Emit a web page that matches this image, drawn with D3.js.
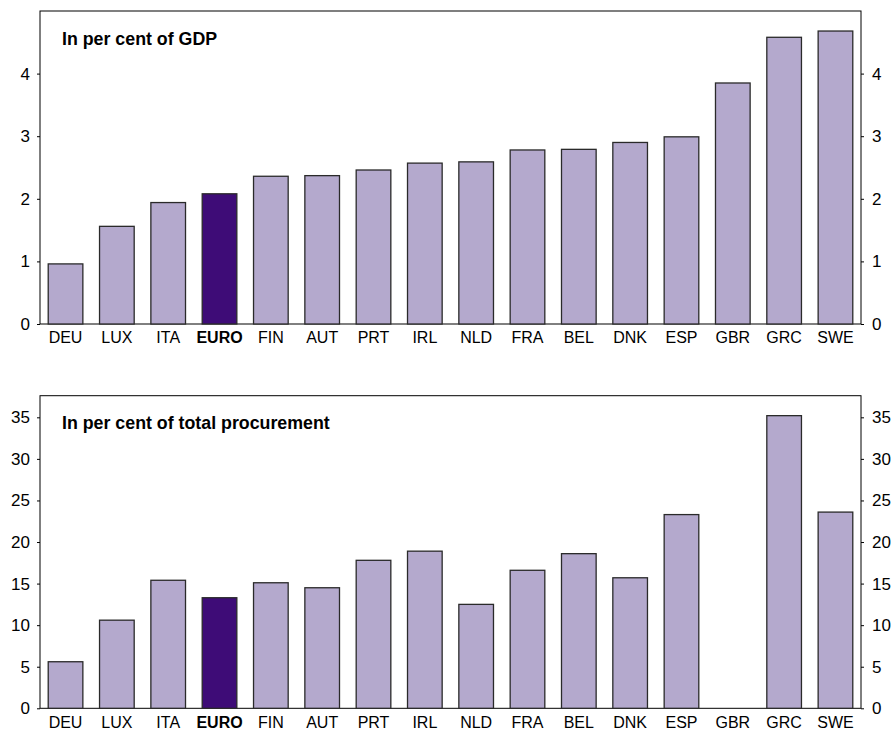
<!DOCTYPE html>
<html>
<head>
<meta charset="utf-8">
<script src="https://cdn.jsdelivr.net/npm/d3@7"></script>
<style>
  html, body { margin: 0; padding: 0; background: #ffffff; }
  svg { display: block; font-family: "Liberation Sans", Arial, sans-serif; }
</style>
</head>
<body>
<svg id="chart" width="893" height="731"></svg>
<script>
const categories = ["DEU","LUX","ITA","EURO","FIN","AUT","PRT","IRL","NLD","FRA","BEL","DNK","ESP","GBR","GRC","SWE"];
const gdpValues = [0.96,1.56,1.94,2.08,2.36,2.37,2.46,2.57,2.59,2.78,2.79,2.90,2.99,3.85,4.58,4.68];
const procurementValues = [5.6,10.6,15.4,13.3,15.1,14.5,17.8,18.9,12.5,16.6,18.6,15.7,23.3,null,35.2,23.6];
const gdpTicks = [0,1,2,3,4];
const procurementTicks = [0,5,10,15,20,25,30,35];
const highlightCategory = "EURO";
const titles = ["In per cent of GDP", "In per cent of total procurement"];

const svg = d3.select("#chart");
const left = 40, right = 861;
const lightFill = "#b4a9cd", darkFill = "#3e0c77", barStroke = "#2a2a2a";

function panel(top, bottom, values, yMax, ticks, title) {
  const g = svg.append("g");
  const x = d3.scaleBand().domain(categories).range([left, right])
    .paddingInner(0.325).paddingOuter(0.16);
  const y = d3.scaleLinear().domain([0, yMax]).range([bottom, top]);

  // frame
  g.append("rect").attr("x", left).attr("y", top)
    .attr("width", right - left).attr("height", bottom - top)
    .attr("fill", "none").attr("stroke", "#000").attr("stroke-width", 1);

  // bars
  g.selectAll("rect.bar").data(categories.map((c, i) => ({c, v: values[i]})).filter(d => d.v != null))
    .enter().append("rect").attr("class", "bar")
    .attr("x", d => x(d.c)).attr("width", x.bandwidth())
    .attr("y", d => y(d.v)).attr("height", d => y(0) - y(d.v))
    .attr("fill", d => d.c === highlightCategory ? darkFill : lightFill)
    .attr("stroke", barStroke).attr("stroke-width", 1.3);

  // y axes
  const yl = d3.axisLeft(y).tickValues(ticks).tickSize(3).tickPadding(7).tickFormat(d3.format("d"));
  const yr = d3.axisRight(y).tickValues(ticks).tickSize(3).tickPadding(8).tickFormat(d3.format("d"));
  const gl = g.append("g").attr("transform", `translate(${left},0)`).call(yl);
  const gr = g.append("g").attr("transform", `translate(${right},0)`).call(yr);
  [gl, gr].forEach(a => {
    a.select(".domain").remove();
    a.selectAll("text").attr("font-size", 17).attr("fill", "#000")
      .style("font-family", "'Liberation Sans', Arial, sans-serif");
    a.selectAll("line").attr("stroke", "#000");
  });

  // x axis labels
  const xa = d3.axisBottom(x).tickSize(0).tickPadding(8);
  const gx = g.append("g").attr("transform", `translate(0,${bottom})`).call(xa);
  gx.select(".domain").remove();
  gx.selectAll("text").attr("font-size", 16).attr("fill", "#000")
    .style("font-family", "'Liberation Sans', Arial, sans-serif")
    .attr("font-weight", d => d === highlightCategory ? "bold" : "normal");

  // title
  g.append("text").attr("x", 62).attr("y", top + 33.5)
    .attr("font-size", 17.8).attr("font-weight", "bold").attr("fill", "#000")
    .text(title);
}

panel(11, 324, gdpValues, 5, gdpTicks, titles[0]);
panel(395.7, 708.3, procurementValues, 37.6, procurementTicks, titles[1]);
</script>
</body>
</html>
